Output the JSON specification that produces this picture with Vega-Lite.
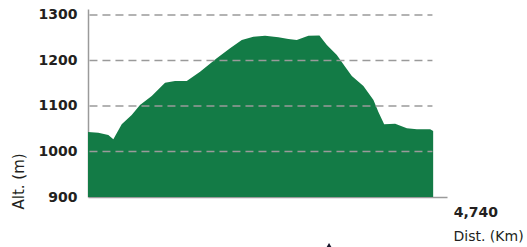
{
  "$schema": "https://vega.github.io/schema/vega-lite/v6.json",
  "autosize": "none",
  "padding": {"left": 88, "top": 9, "right": 80, "bottom": 50},
  "width": 359,
  "height": 188,
  "background": "white",
  "config": {"view": {"stroke": null}, "font": "DejaVu Sans"},
  "datasets": {
    "profile": [
      {"km": 0, "alt": 1043},
      {"km": 0.142, "alt": 1041},
      {"km": 0.279, "alt": 1036},
      {"km": 0.348, "alt": 1027},
      {"km": 0.463, "alt": 1060},
      {"km": 0.6, "alt": 1080},
      {"km": 0.714, "alt": 1102},
      {"km": 0.875, "alt": 1122},
      {"km": 1.058, "alt": 1151},
      {"km": 1.195, "alt": 1155},
      {"km": 1.356, "alt": 1155},
      {"km": 1.539, "alt": 1175},
      {"km": 1.768, "alt": 1205},
      {"km": 1.951, "alt": 1227},
      {"km": 2.112, "alt": 1245},
      {"km": 2.271, "alt": 1252},
      {"km": 2.432, "alt": 1254},
      {"km": 2.615, "alt": 1251},
      {"km": 2.752, "alt": 1247},
      {"km": 2.867, "alt": 1245},
      {"km": 3.027, "alt": 1254},
      {"km": 3.178, "alt": 1255},
      {"km": 3.28, "alt": 1234},
      {"km": 3.417, "alt": 1212},
      {"km": 3.531, "alt": 1186},
      {"km": 3.623, "alt": 1166},
      {"km": 3.782, "alt": 1144},
      {"km": 3.92, "alt": 1113},
      {"km": 3.988, "alt": 1087},
      {"km": 4.067, "alt": 1060},
      {"km": 4.218, "alt": 1061},
      {"km": 4.379, "alt": 1051},
      {"km": 4.516, "alt": 1049},
      {"km": 4.699, "alt": 1049},
      {"km": 4.74, "alt": 1045}
    ],
    "grid": [{"alt": 1000}, {"alt": 1100}, {"alt": 1200}, {"alt": 1300}],
    "marker": [{"km": 3.31, "alt": 790}]
  },
  "layer": [
    {
      "data": {"name": "profile"},
      "mark": {"type": "area", "color": "#137B46", "interpolate": "linear"},
      "encoding": {
        "x": {
          "field": "km", "type": "quantitative",
          "scale": {"domain": [0, 4.93], "nice": false, "zero": false},
          "axis": {
            "values": [4.74],
            "labelExpr": "'4,740'",
            "labelFlush": false,
            "ticks": false,
            "grid": false,
            "domainColor": "#9a9a9a",
            "domainWidth": 1.5,
            "labelAlign": "left",
            "labelBaseline": "top",
            "labelOffset": 20,
            "labelPadding": 8,
            "labelFontSize": 14,
            "labelFontWeight": "bold",
            "labelColor": "#231f20",
            "title": "Dist. (Km)",
            "titleFontSize": 14,
            "titleFontWeight": "normal",
            "titleColor": "#231f20",
            "titleAlign": "left",
            "titleBaseline": "alphabetic",
            "titleX": 365,
            "titleY": 43
          }
        },
        "y": {
          "field": "alt", "type": "quantitative",
          "scale": {"domain": [900, 1313], "nice": false, "zero": false},
          "axis": {
            "values": [900, 1000, 1100, 1200, 1300],
            "format": "d",
            "ticks": false,
            "grid": false,
            "domainColor": "#9a9a9a",
            "domainWidth": 1.5,
            "labelPadding": 11,
            "labelFontSize": 14,
            "labelFontWeight": "bold",
            "labelColor": "#231f20",
            "title": "Alt. (m)",
            "titleFontSize": 15,
            "titleFontWeight": "normal",
            "titleColor": "#231f20",
            "titleAlign": "left",
            "titleY": 200,
            "titlePadding": 12
          }
        },
        "y2": {"datum": 900}
      }
    },
    {
      "data": {"name": "grid"},
      "mark": {"type": "rule", "color": "#9a9a9a", "strokeWidth": 1.5, "strokeDash": [8, 5]},
      "encoding": {
        "y": {"field": "alt", "type": "quantitative"},
        "x": {"datum": 0.02},
        "x2": {"datum": 4.73}
      }
    },
    {
      "data": {"name": "marker"},
      "mark": {"type": "point", "shape": "triangle-up", "filled": true, "color": "#15152a", "size": 90, "opacity": 1},
      "encoding": {
        "x": {"field": "km", "type": "quantitative"},
        "y": {"field": "alt", "type": "quantitative"}
      }
    }
  ]
}
